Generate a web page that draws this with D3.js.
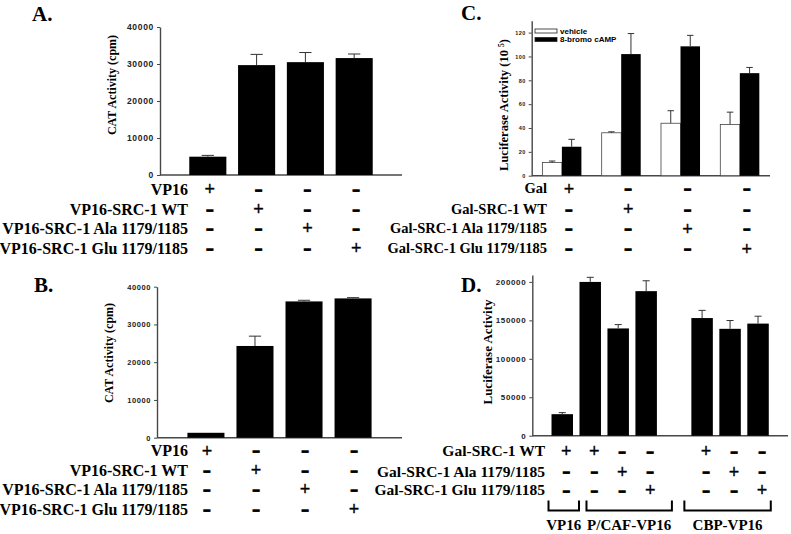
<!DOCTYPE html>
<html><head><meta charset="utf-8">
<script src="https://cdn.jsdelivr.net/npm/d3@7"></script>
<style>body{margin:0;background:#fff}svg{display:block}</style>
</head><body>
<script>
// ---------- DATA ----------
const aRows = ["VP16", "VP16-SRC-1 WT", "VP16-SRC-1 Ala 1179/1185", "VP16-SRC-1 Glu 1179/1185"];
const aValues = [4950, 29700, 30500, 31600];
const aErrors = [350, 2900, 2600, 1100];
const aTicks = [0, 10000, 20000, 30000, 40000];

const bRows = ["VP16", "VP16-SRC-1 WT", "VP16-SRC-1 Ala 1179/1185", "VP16-SRC-1 Glu 1179/1185"];
const bValues = [1300, 24300, 36100, 36900];
const bErrors = [0, 2600, 300, 200];
const bTicks = [0, 10000, 20000, 30000, 40000];

const cRows = ["Gal", "Gal-SRC-1 WT", "Gal-SRC-1 Ala 1179/1185", "Gal-SRC-1 Glu 1179/1185"];
const cSeries = ["vehicle", "8-bromo cAMP"];
const cVehicle = [11, 36, 44, 43];
const cVehicleErr = [1.3, 0.8, 10.5, 10.3];
const cCamp = [24.3, 102, 108.5, 86];
const cCampErr = [6.2, 17.2, 9.2, 4.8];
const cTicks = [0, 20, 40, 60, 80, 100, 120];

const dRows = ["Gal-SRC-1 WT", "Gal-SRC-1 Ala 1179/1185", "Gal-SRC-1 Glu 1179/1185"];
const dSlots = ["VP16|WT", "PCAF|WT", "PCAF|Ala", "PCAF|Glu", "gap", "CBP|WT", "CBP|Ala", "CBP|Glu"];
const dValues = [28000, 200000, 139500, 188000, null, 153000, 139000, 145800];
const dErrors = [2000, 6000, 5000, 13500, null, 10000, 10800, 9600];
const dTicks = [0, 50000, 100000, 150000, 200000];
const dSigns = [
  ["+", "+", "-", "-", null, "+", "-", "-"],
  ["-", "-", "+", "-", null, "-", "+", "-"],
  ["-", "-", "-", "+", null, "-", "-", "+"]
];
const dGroups = [
  {label: "VP16", first: 0, last: 0},
  {label: "P/CAF-VP16", first: 1, last: 3},
  {label: "CBP-VP16", first: 5, last: 7}
];
// sign matrix for panels A-C: row i has "+" in column i
const diagSigns = d3.range(4).map(r => d3.range(4).map(c => r === c ? "+" : "-"));

// ---------- STYLE ----------
const SERIF = "'Liberation Serif','Times New Roman',serif";
const SANS = "'Liberation Sans',Arial,sans-serif";
const AXC = "#474747";
const bracketPad = [[-3, 6], [7, 15], [-7, 2]]; // hand-drawn bracket overhangs (left, right)

const svg = d3.select("body").append("svg").attr("width", 791).attr("height", 534);

function panelLetter(txt, x, y) {
  svg.append("text").attr("x", x).attr("y", y).text(txt)
    .attr("font-family", SERIF).attr("font-weight", "bold").attr("font-size", 21);
}

function drawAxes(x0, x1, y, ticks, tickFont) {
  const g = svg.append("g").attr("transform", `translate(${x0},0)`);
  g.call(d3.axisLeft(y).tickValues(ticks).tickSize(3).tickSizeOuter(0).tickPadding(3).tickFormat(d3.format("d")));
  g.select(".domain").attr("stroke", AXC).attr("stroke-width", 1.4);
  g.selectAll(".tick line").attr("stroke", AXC).attr("stroke-width", 1);
  g.selectAll(".tick text").attr("font-family", SANS).attr("font-weight", "bold")
    .attr("font-size", tickFont).attr("fill", "#222").attr("letter-spacing", tickFont * 0.08);
  svg.append("line").attr("x1", x0).attr("x2", x1).attr("y1", y(0)).attr("y2", y(0))
    .attr("stroke", AXC).attr("stroke-width", 1.4);
}

function yTitle(x, cy, size, parts) {
  const t = svg.append("text").attr("transform", `translate(${x},${cy}) rotate(-90)`)
    .attr("text-anchor", "middle").attr("dy", "0.35em")
    .attr("font-family", SERIF).attr("font-weight", "bold").attr("font-size", size);
  parts.forEach(p => {
    const s = t.append("tspan").text(p.t);
    if (p.sup) s.attr("font-size", size * 0.6).attr("baseline-shift", "super");
  });
}

function bars(xs, bw, y, vals, errs, fill) {
  vals.forEach((v, i) => {
    if (v == null) return;
    const x = xs[i];
    svg.append("rect").attr("x", x).attr("width", bw).attr("y", y(v)).attr("height", y(0) - y(v))
      .attr("fill", fill).attr("stroke", fill === "#000" ? "#000" : "#444").attr("stroke-width", fill === "#000" ? 0 : 0.8);
    const e = errs[i];
    if (e > 0) {
      const cx = x + bw / 2, cw = bw * 0.33;
      svg.append("line").attr("x1", cx).attr("x2", cx).attr("y1", y(v)).attr("y2", y(v + e))
        .attr("stroke", "#333").attr("stroke-width", 1);
      svg.append("line").attr("x1", cx - cw / 2).attr("x2", cx + cw / 2).attr("y1", y(v + e)).attr("y2", y(v + e))
        .attr("stroke", "#333").attr("stroke-width", 1);
    }
  });
}

function signTable(rows, rowYs, labelRight, labelSize, colXs, signs) {
  rows.forEach((r, i) => {
    svg.append("text").attr("x", labelRight).attr("y", rowYs[i]).attr("dy", "0.35em")
      .attr("text-anchor", "end").text(r)
      .attr("font-family", SERIF).attr("font-weight", "bold").attr("font-size", labelSize);
    signs[i].forEach((s, j) => {
      if (s == null) return;
      const t = svg.append("text").attr("x", colXs[j]).attr("text-anchor", "middle");
      if (s === "+") {
        t.attr("y", rowYs[i] + 6.2).text("+").attr("font-family", SANS).attr("font-size", 18)
          .attr("stroke", "#000").attr("stroke-width", 0.3);
      } else {
        t.attr("y", rowYs[i] + 4.5).text("\u2013").attr("font-family", SANS).attr("font-weight", "bold")
          .attr("font-size", 12).attr("stroke", "#000").attr("stroke-width", 1.3);
      }
    });
  });
}

// ---- Panel A ----
panelLetter("A.", 32, 21);
const yA = d3.scaleLinear().domain([0, 40000]).range([175, 27]);
const xA = d3.scaleBand().domain(d3.range(4)).range([160, 402]).paddingInner(0.24).paddingOuter(0.6);
drawAxes(160, 402, yA, aTicks, 8.5);
bars(d3.range(4).map(i => xA(i)), xA.bandwidth(), yA, aValues, aErrors, "#000");
yTitle(112, 85, 12, [{t: "CAT Activity (cpm)"}]);
signTable(aRows, [189, 209, 228, 248], 188, 16, d3.range(4).map(i => xA(i) + xA.bandwidth() / 2 + 2), diagSigns);

// ---- Panel B ----
panelLetter("B.", 34, 292);
const yB = d3.scaleLinear().domain([0, 40000]).range([437.7, 286.7]);
const xB = d3.scaleBand().domain(d3.range(4)).range([157, 402]).paddingInner(0.245).paddingOuter(0.62);
drawAxes(157, 402, yB, bTicks, 7.5);
bars(d3.range(4).map(i => xB(i)), xB.bandwidth(), yB, bValues, bErrors, "#000");
yTitle(109, 353, 12, [{t: "CAT Activity (cpm)"}]);
signTable(bRows, [450.7, 470, 489, 509], 188, 16, d3.range(4).map(i => xB(i) + xB.bandwidth() / 2 + 1), diagSigns);

// ---- Panel C ----
panelLetter("C.", 461, 20);
const yC = d3.scaleLinear().domain([0, 130]).range([175.7, 20.7]);
const xC = d3.scaleBand().domain(d3.range(4)).range([531.7, 770]).paddingInner(0.342).paddingOuter(0.18);
const subC = d3.scaleBand().domain(cSeries).range([0, xC.bandwidth()]);
drawAxes(531.7, 770, yC, cTicks, 5.5);
bars(d3.range(4).map(i => xC(i) + subC(cSeries[0])), subC.bandwidth(), yC, cVehicle, cVehicleErr, "#fff");
bars(d3.range(4).map(i => xC(i) + subC(cSeries[1])), subC.bandwidth(), yC, cCamp, cCampErr, "#000");
yTitle(504, 105, 12.5, [{t: "Luciferase Activity (10 "}, {t: "5", sup: true}, {t: ")"}]);
const lg = svg.append("g");
cSeries.forEach((s, i) => {
  lg.append("rect").attr("x", 535).attr("y", 29 + i * 8.5).attr("width", 22).attr("height", 4)
    .attr("fill", i === 0 ? "#fff" : "#000").attr("stroke", "#222").attr("stroke-width", 0.8);
  lg.append("text").attr("x", 560).attr("y", 31 + i * 8.5).attr("dy", "0.35em").text(s)
    .attr("font-family", SANS).attr("font-weight", "bold").attr("font-size", 8);
});
signTable(cRows, [188.3, 209, 228.3, 248.3], 547, 14.5, d3.range(4).map(i => xC(i) + xC.bandwidth() / 2 + 7), diagSigns);

// ---- Panel D ----
panelLetter("D.", 461, 292);
const yD = d3.scaleLinear().domain([0, 209000]).range([435.7, 275]);
const xD = d3.scaleBand().domain(dSlots).range([532.3, 788]).paddingInner(0.232).paddingOuter(0.687);
drawAxes(532.3, 788, yD, dTicks, 8);
bars(dSlots.map(s => xD(s)), xD.bandwidth(), yD, dValues, dErrors, "#000");
yTitle(487, 352, 13, [{t: "Luciferase Activity"}]);
signTable(dRows, [451, 471.7, 490], 545, 15.5, dSlots.map(s => xD(s) + xD.bandwidth() / 2 + 4), dSigns);
dGroups.forEach((g, k) => {
  const l = xD(dSlots[g.first]) + bracketPad[k][0];
  const r = xD(dSlots[g.last]) + xD.bandwidth() + bracketPad[k][1];
  svg.append("path").attr("d", `M${l},500.5V510.5H${r}V500.5`).attr("fill", "none")
    .attr("stroke", "#000").attr("stroke-width", 2);
  svg.append("text").attr("x", (l + r) / 2).attr("y", 524.5).attr("dy", "0.35em").attr("text-anchor", "middle")
    .text(g.label).attr("font-family", SERIF).attr("font-weight", "bold").attr("font-size", 15);
});
</script>
</body></html>
